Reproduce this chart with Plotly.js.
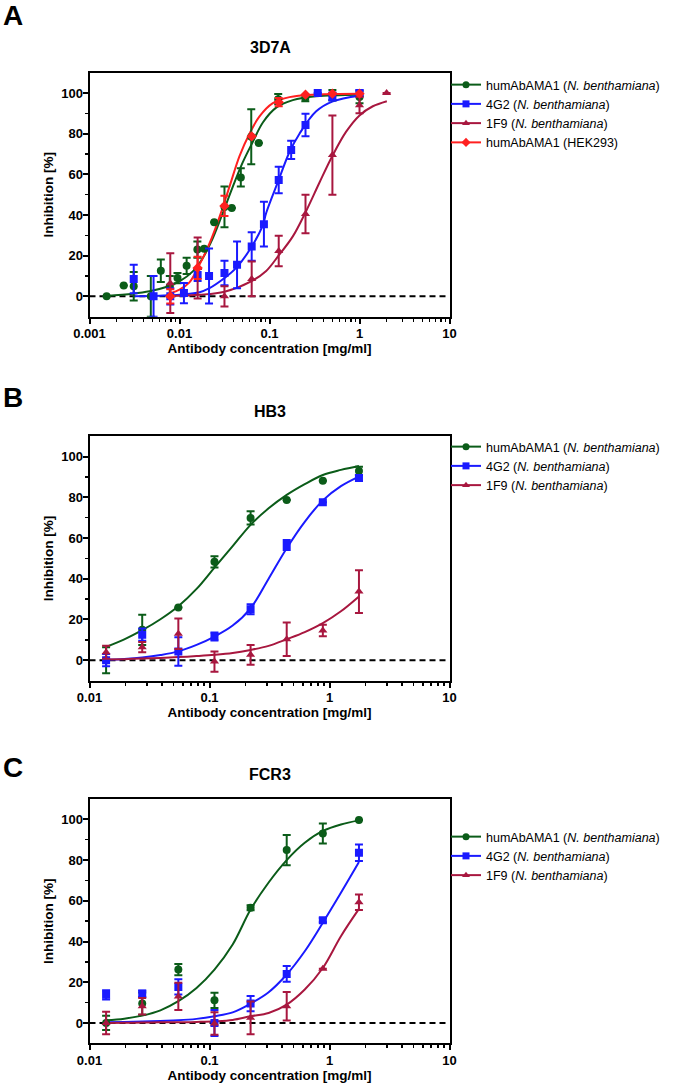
<!DOCTYPE html>
<html><head><meta charset="utf-8">
<script src="https://cdn.plot.ly/plotly-3.0.1.min.js"></script>
<style>html,body{margin:0;padding:0;background:#fff}#chart{width:675px;height:1085px}</style>
</head><body><div id="chart"></div>
<script>
// ---------- Panel A: 3D7A ----------
const aGreenX = [0.00155,0.0024,0.0031,0.0048,0.0062,0.0078,0.0095,0.012,0.0158,0.0188,0.0243,0.0316,0.0381,0.048,0.0627,0.076,0.125,0.25,0.5,1.0];
const aGreenY = [0,5.3,5,0,12.6,5,9,15,23,23.4,36.4,44,43.4,58.5,78.5,75.4,97,97.5,99,98];
const aGreenE = [null,null,7,10,5.5,5,2.5,4,4,null,null,10,null,4.5,13.5,null,2.5,1.5,2.5,3];
const aBlueX = [0.0031,0.00515,0.0079,0.0112,0.0159,0.0213,0.0316,0.0436,0.0634,0.0867,0.1266,0.1741,0.2512,0.3436,0.5,1.0];
const aBlueY = [8.5,0,0,1.6,10.5,10,11.5,15.5,24.5,35.5,57.2,72,84.3,100,98.3,100];
const aBlueE = [7,10,4,5,3,13.5,6,11.5,7,11,6.5,4.5,5.5,null,2,1.5];
const aMarX = [0.0079,0.0159,0.0316,0.0634,0.1266,0.2512,0.5,1.0,2.0];
const aMarY = [6.5,14,0,8.6,22.3,40.5,69.5,94,100];
const aMarE = [14.7,15,5,8.6,7.5,9.5,19.5,4,null];
const aRedX = [0.0079,0.0159,0.0316,0.0634,0.1266,0.2512,0.5,1.0];
const aRedY = [0,14,44.5,78.7,95.5,99.2,99.7,99.7];
const aRedE = [3.5,5.5,5,null,2,null,null,null];
// fitted curves
const aGreenFitX = [0.00153,0.00303,0.00464,0.00711,0.01,0.01406,0.01816,0.02347,0.03027,0.03914,0.05055,0.06531,0.08434,0.1186,0.1816,0.3302,1.0];
const aGreenFitY = [0.2,1.3,2.5,4.6,7.4,12.3,18.9,28.7,41,54,66,76,85.5,92.8,96.5,98.4,99.2];
const aBlueFitX = [0.00303,0.00794,0.01668,0.02154,0.03162,0.04263,0.0625,0.08434,0.09183,0.1259,0.1668,0.2154,0.3302,0.5055,1.0];
const aBlueFitY = [0,0.5,2,4,9,14,24,35,41,57,71,80,91,95.9,98.7];
const aMarFitX = [0.00794,0.01668,0.03162,0.0625,0.09183,0.1259,0.1816,0.2555,0.3594,0.5055,0.7109,1.0,1.406,2.013];
const aMarFitY = [0.2,0.8,2.3,7.4,12.5,20,29.5,42,56,69.5,81,89,93.5,96];
const aRedFitX = [0.00794,0.01,0.0129,0.01668,0.02154,0.0278,0.03594,0.04642,0.05995,0.07743,0.1089,0.1668,0.3302,1.0];
const aRedFitY = [1.6,3.3,6.9,15.6,26,39,54,69,80,88.5,95,98,99.3,99.7];

// ---------- Panels B (HB3) and C (FCR3) ----------
const bcX = [0.01375,0.0275,0.055,0.11,0.22,0.44,0.88,1.76];
const bGreenY = [0,14.9,25.9,48.3,69.9,78.7,88.2,93];
const bGreenE = [6.4,7.4,null,2.8,3.3,null,null,2];
const bBlueY = [0,12.5,4.3,11.6,25,56.6,77.6,89.5];
const bBlueE = [3,3,7,2,2.5,2.5,null,1.5];
const bMarY = [3.9,6.4,13,-0.7,2.6,10.3,14.6,33.7];
const bMarE = [3.2,2.5,7.5,5,4.9,8.2,2.8,10.5];
const cGreenY = [0,9.5,26.2,11.1,56.6,84.9,93.1,99.7];
const cGreenE = [3.5,5.5,2.8,3.7,1.2,7.4,4.9,null];
const cBlueY = [13.8,14.3,17.7,0,9.5,24.1,50.5,83.6];
const cBlueE = [2.3,1.6,3.7,6.4,3.7,3.9,1,4.1];
const cMarY = [0,8.2,13,-0.3,2.5,8.2,26.6,59.3];
const cMarE = [5.5,4,6.7,5.5,8,7,null,3.8];
// fitted curves
const bcFitX = [0.01375,0.0195,0.0275,0.039,0.055,0.078,0.11,0.156,0.22,0.311,0.44,0.622,0.88,1.245,1.76];
const bGreenFitY = [6.5,10.2,14.7,20.1,26.5,35,45.5,56,66.5,74.6,81.2,86.5,91,93.5,95.4];
const bBlueFitY = [0.2,0.6,1.3,2.5,4.3,7.5,11.6,17,25.5,40,55,68,78.5,85.5,90.2];
const bMarFitY = [0.3,0.5,0.8,1.1,1.5,2,2.6,3.5,5,7,10.3,13.8,18.2,24,31.3];
const cGreenFitY = [1.3,2.1,3.6,6.2,10.7,17.2,26.2,38.5,55.7,69,80,88.5,94.3,97.5,99.5];
const cBlueFitY = [0.3,0.5,0.7,1,1.3,2,3.3,5.2,9.5,15.1,23.8,35.2,49.2,63.9,79];
const cMarFitY = [0,0.1,0.2,0.3,0.3,0.5,0.8,1.5,3.3,4.9,9,16.4,27,42.6,56];

const panelTitles = ['3D7A','HB3','FCR3'];
const panelLetters = ['A','B','C'];
const seriesNames = ['humAbAMA1 (<i>N. benthamiana</i>)','4G2 (<i>N. benthamiana</i>)','1F9 (<i>N. benthamiana</i>)','humAbAMA1 (HEK293)'];
const xTickValsA = [0.001,0.01,0.1,1,10];
const xTickTextA = ['0.001','0.01','0.1','1','10'];
const xTickValsBC = [0.01,0.1,1,10];
const xTickTextBC = ['0.01','0.1','1','10'];
const yTickVals = [0,20,40,60,80,100];

const GREEN='#0b5c19', BLUE='#1a1aff', MAROON='#a8173f', RED='#ff2020';
const FONT='"Liberation Sans", Arial, sans-serif';

function curve(x,y,color,xa,ya){
  return {x:x,y:y,mode:'lines',line:{color:color,width:2,shape:'spline',smoothing:1},showlegend:false,hoverinfo:'skip',xaxis:xa,yaxis:ya};
}
function pts(x,y,e,color,symbol,size,xa,ya){
  return {x:x,y:y,mode:'markers',marker:{symbol:symbol,size:size,color:color},
    error_y:{type:'data',array:e,visible:true,color:color,thickness:2,width:4},
    showlegend:false,xaxis:xa,yaxis:ya};
}
function leg(name,color,symbol,size,lg,xa,ya){
  return {x:[null],y:[null],mode:'lines+markers',name:name,line:{color:color,width:2},
    marker:{symbol:symbol,size:size,color:color},legend:lg,xaxis:xa,yaxis:ya};
}

const traces = [
  curve(aGreenFitX,aGreenFitY,GREEN,'x','y'),
  curve(aBlueFitX,aBlueFitY,BLUE,'x','y'),
  curve(aMarFitX,aMarFitY,MAROON,'x','y'),
  curve(aRedFitX,aRedFitY,RED,'x','y'),
  pts(aGreenX,aGreenY,aGreenE,GREEN,'circle',8,'x','y'),
  pts(aBlueX,aBlueY,aBlueE,BLUE,'square',8,'x','y'),
  pts(aMarX,aMarY,aMarE,MAROON,'triangle-up',8,'x','y'),
  pts(aRedX,aRedY,aRedE,RED,'diamond',8,'x','y'),
  leg(seriesNames[0],GREEN,'circle',7,'legend','x','y'),
  leg(seriesNames[1],BLUE,'square',7,'legend','x','y'),
  leg(seriesNames[2],MAROON,'triangle-up',7,'legend','x','y'),
  leg(seriesNames[3],RED,'diamond',7,'legend','x','y'),

  curve(bcFitX,bGreenFitY,GREEN,'x2','y2'),
  curve(bcFitX,bBlueFitY,BLUE,'x2','y2'),
  curve(bcFitX,bMarFitY,MAROON,'x2','y2'),
  pts(bcX,bGreenY,bGreenE,GREEN,'circle',8,'x2','y2'),
  pts(bcX,bBlueY,bBlueE,BLUE,'square',8,'x2','y2'),
  pts(bcX,bMarY,bMarE,MAROON,'triangle-up',8,'x2','y2'),
  leg(seriesNames[0],GREEN,'circle',7,'legend2','x2','y2'),
  leg(seriesNames[1],BLUE,'square',7,'legend2','x2','y2'),
  leg(seriesNames[2],MAROON,'triangle-up',7,'legend2','x2','y2'),

  curve(bcFitX,cGreenFitY,GREEN,'x3','y3'),
  curve(bcFitX,cBlueFitY,BLUE,'x3','y3'),
  curve(bcFitX,cMarFitY,MAROON,'x3','y3'),
  pts(bcX,cGreenY,cGreenE,GREEN,'circle',8,'x3','y3'),
  pts(bcX,cBlueY,cBlueE,BLUE,'square',8,'x3','y3'),
  pts(bcX,cMarY,cMarE,MAROON,'triangle-up',8,'x3','y3'),
  leg(seriesNames[0],GREEN,'circle',7,'legend3','x3','y3'),
  leg(seriesNames[1],BLUE,'square',7,'legend3','x3','y3'),
  leg(seriesNames[2],MAROON,'triangle-up',7,'legend3','x3','y3')
];

function minorLog(lo,hi){const v=[];for(let d=lo;d<hi;d++){for(let k=2;k<=9;k++)v.push(k*Math.pow(10,d));}return v;}

const tickFont={family:FONT,size:13,weight:'bold',color:'#000'};
const titleFont={family:FONT,size:13.5,weight:'bold',color:'#000'};
function xax(dom,anchor,range,tv,tt,minor){
  return {domain:dom,anchor:anchor,type:'log',range:range,tickmode:'array',tickvals:tv,ticktext:tt,
    ticks:'outside',ticklen:5,tickwidth:2,tickcolor:'#000',showline:true,linewidth:2,linecolor:'#000',mirror:true,
    showgrid:false,zeroline:false,tickfont:tickFont,ticklabelstandoff:-1,
    minor:{tickmode:'array',tickvals:minor,ticks:'outside',ticklen:3,tickwidth:1.5,tickcolor:'#000',showgrid:false},
    title:{text:'Antibody concentration [mg/ml]',font:titleFont,standoff:1}};
}
function yax(dom,anchor){
  return {domain:dom,anchor:anchor,range:[-10,110],tickmode:'array',tickvals:yTickVals,
    ticks:'outside',ticklen:5,tickwidth:2,tickcolor:'#000',showline:true,linewidth:2,linecolor:'#000',mirror:true,
    showgrid:false,zeroline:false,tickfont:tickFont,ticklabelstandoff:-3,
    minor:{tickmode:'array',tickvals:[10,30,50,70,90],ticks:'outside',ticklen:3,tickwidth:1.5,tickcolor:'#000',showgrid:false},
    title:{text:'Inhibition [%]',font:titleFont,standoff:4}};
}
const H=1085,W=675;
const py=p=>1-p/H, px=p=>p/W;
const XD=[px(89.5),px(449.5)];

function zeroLine(xa,ya){return {type:'line',xref:xa+' domain',yref:ya,x0:0,x1:1,y0:0,y1:0,layer:'below',line:{color:'#000',width:2,dash:'6px,4px'}};}
function legendCfg(topPx){return {x:px(446),y:py(topPx),xanchor:'left',yanchor:'top',xref:'paper',yref:'paper',
  font:{family:FONT,size:12.5,color:'#000'},bgcolor:'rgba(0,0,0,0)',tracegroupgap:0,itemclick:false};}

const annotations=[];
const titleY=[48,412,774], letterY=[15,397,767];
for(let i=0;i<3;i++){
  annotations.push({text:panelTitles[i],xref:'paper',yref:'paper',x:px(270),y:py(titleY[i]),xanchor:'center',yanchor:'middle',showarrow:false,font:{family:FONT,size:16,weight:'bold',color:'#000'}});
  annotations.push({text:panelLetters[i],xref:'paper',yref:'paper',x:px(1),y:py(letterY[i]),xanchor:'left',yanchor:'middle',showarrow:false,font:{family:FONT,size:28,weight:'bold',color:'#000'}});
}

const layout={
  width:W,height:H,margin:{l:0,r:0,t:0,b:0},paper_bgcolor:'#fff',plot_bgcolor:'#fff',
  font:{family:FONT,color:'#000'},
  xaxis:xax(XD,'y',[-3,1],xTickValsA,xTickTextA,minorLog(-3,1)),
  yaxis:yax([py(316.7),py(72.7)],'x'),
  xaxis2:xax(XD,'y2',[-2,1],xTickValsBC,xTickTextBC,minorLog(-2,1)),
  yaxis2:yax([py(680.5),py(436.3)],'x2'),
  xaxis3:xax(XD,'y3',[-2,1],xTickValsBC,xTickTextBC,minorLog(-2,1)),
  yaxis3:yax([py(1043.3),py(799)],'x3'),
  legend:legendCfg(70),legend2:legendCfg(432),legend3:legendCfg(822),
  shapes:[zeroLine('x','y'),zeroLine('x2','y2'),zeroLine('x3','y3')],
  annotations:annotations,showlegend:true
};
Plotly.newPlot('chart',traces,layout,{displayModeBar:false,staticPlot:true});
</script></body></html>
